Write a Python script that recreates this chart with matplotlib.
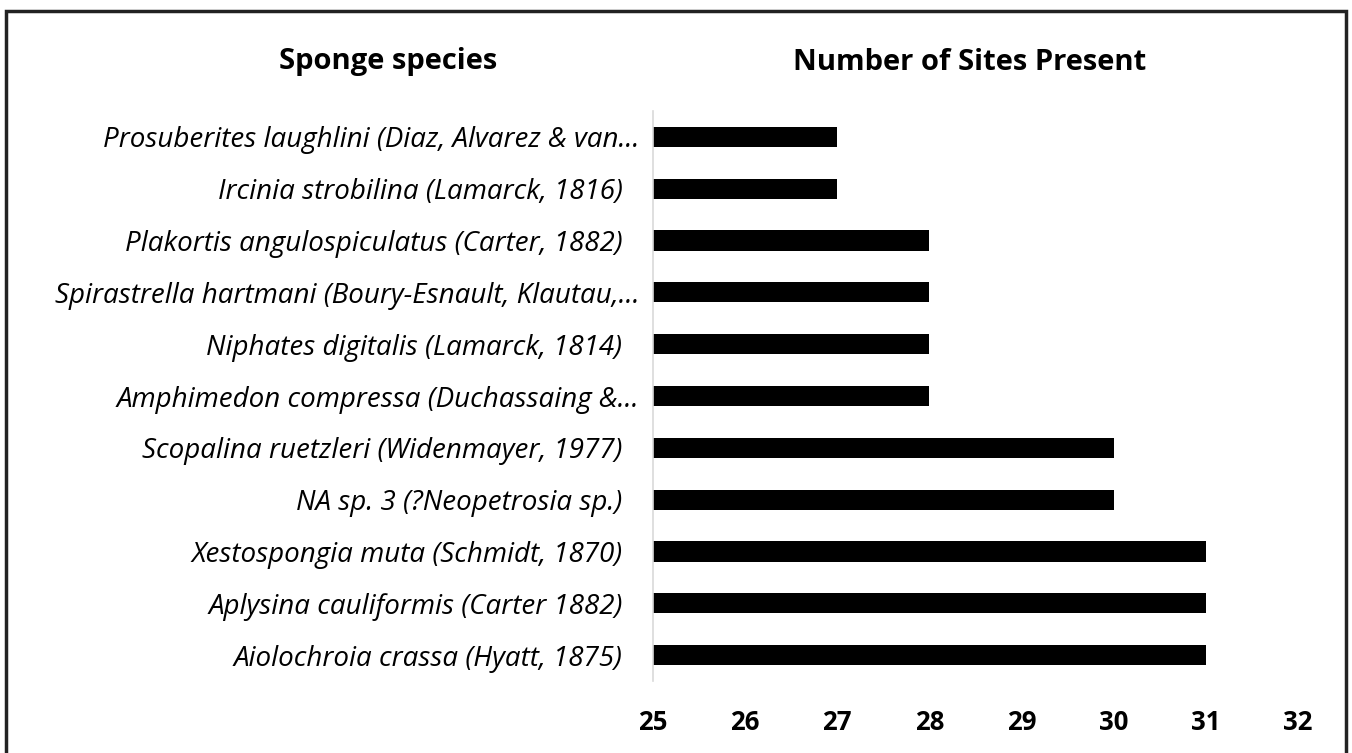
import matplotlib
matplotlib.use("Agg")
import matplotlib.pyplot as plt
from matplotlib.patches import Rectangle
from matplotlib.transforms import ScaledTranslation

# top to bottom as in the chart
species = [
    "Prosuberites laughlini (Diaz, Alvarez & van...",
    "Ircinia strobilina (Lamarck, 1816)",
    "Plakortis angulospiculatus (Carter, 1882)",
    "Spirastrella hartmani (Boury-Esnault, Klautau,...",
    "Niphates digitalis (Lamarck, 1814)",
    "Amphimedon compressa (Duchassaing &...",
    "Scopalina ruetzleri (Widenmayer, 1977)",
    "NA sp. 3 (?Neopetrosia sp.)",
    "Xestospongia muta (Schmidt, 1870)",
    "Aplysina cauliformis (Carter 1882)",
    "Aiolochroia crassa (Hyatt, 1875)",
]
sites = [27, 27, 28, 28, 28, 28, 30, 30, 31, 31, 31]
xticks = [25, 26, 27, 28, 29, 30, 31, 32]

plt.rcParams['font.family'] = ['Open Sans', 'DejaVu Sans']

fig = plt.figure(figsize=(13.52, 7.53), dpi=100)
ax = fig.add_axes([0.483, 0.0956, 0.477, 0.757])

pos = list(range(len(species)))[::-1]
ax.barh(pos, sites, height=0.39, color='black', left=0)
ax.set_xlim(25, 32)
ax.set_ylim(-0.5, len(species) - 0.5)
ax.set_yticks(pos)
ax.set_yticklabels(species, fontsize=20, style='italic')
ax.set_xticks(xticks)
ax.set_xticklabels([str(t) for t in xticks], fontsize=18.5, fontweight='bold')
ax.tick_params(axis='both', length=0)
ax.tick_params(axis='y', pad=22)
ax.tick_params(axis='x', pad=20)
for s in ['top', 'right', 'bottom']:
    ax.spines[s].set_visible(False)
ax.spines['left'].set_color('#d9d9d9')
ax.spines['left'].set_linewidth(1.2)

# truncated labels sit a bit closer to the axis
for lab in ax.get_yticklabels():
    if lab.get_text().endswith('...'):
        lab.set_transform(lab.get_transform() + ScaledTranslation(0.17, 0, fig.dpi_scale_trans))

fig.text(388 / 1352, 1 - 62 / 753, "Sponge species", fontsize=21,
         fontweight='bold', ha='center', va='center')
fig.text(970 / 1352, 1 - 62 / 753, "Number of Sites Present", fontsize=21,
         fontweight='bold', ha='center', va='center')

# outer frame (bottom edge is cut off in the original)
fig.patches.append(Rectangle((6 / 1352, -0.1), (1346 - 6) / 1352, 1.1 - 11 / 753,
                             transform=fig.transFigure, fill=False,
                             edgecolor='#222222', linewidth=2.5))

fig.savefig("out.png", dpi=100)
